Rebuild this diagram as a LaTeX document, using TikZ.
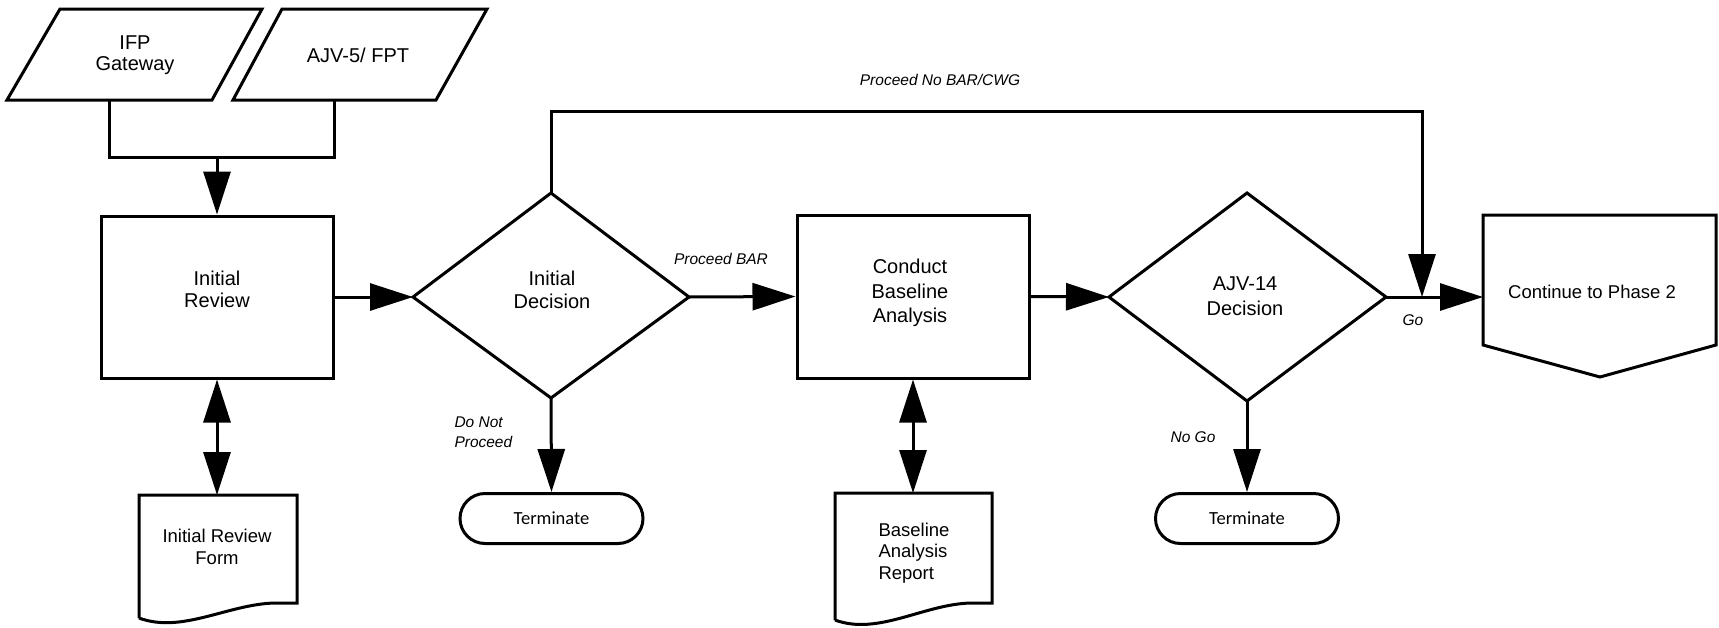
\documentclass[tikz,border=0pt]{standalone}
\usepackage{fontspec}
\setmainfont{Liberation Sans}
\newfontfamily\calib{Carlito}
\usetikzlibrary{arrows.meta}
\begin{document}
\begin{tikzpicture}[x=1pt,y=-1pt,
  line width=3pt,
  tip/.style={-{Triangle[length=43pt,width=27pt]}},
  dtip/.style={{Triangle[length=43pt,width=27pt]}-{Triangle[length=43pt,width=27pt]}},
  maintxt/.style={font=\fontsize{20}{23.5}\selectfont, align=center, inner sep=0pt},
  doctxt/.style={font=\fontsize{18.5}{21.5}\selectfont, inner sep=0pt},
  lbl/.style={font=\fontsize{15.5}{20}\selectfont\itshape, inner sep=0pt},
  term/.style={draw, rounded corners=25pt, minimum width=183pt, minimum height=50pt, inner sep=0pt, font=\calib\fontsize{18.5}{20}\selectfont},
  procbox/.style={draw, minimum width=232pt, minimum height=162pt, inner sep=0pt},
]
\useasboundingbox (0,0) rectangle (1719,627);

% inputs (parallelograms)
\draw (60,9) -- (262,9) -- (212,100) -- (7,100) -- cycle;
\draw (282,9) -- (487,9) -- (436,100) -- (233,100) -- cycle;
\node[maintxt, font=\fontsize{20}{21}\selectfont] (ifp) at (135,55) {IFP\\Gateway};
\node[maintxt] (ajv5) at (358,55) {AJV-5/ FPT};
\coordinate (ifpb) at (109,100);
\coordinate (ajvb) at (334,100);
\coordinate (mrg) at (217,157);

% Initial Review
\node[procbox] (ir) at (217,297) {};
\node[maintxt, font=\fontsize{20}{22}\selectfont] (irt) at (217,289) {Initial\\Review};

% Initial Decision diamond
\coordinate (d1w) at (413,297);
\coordinate (d1n) at (551,193);
\coordinate (d1e) at (689,297);
\coordinate (d1s) at (551,398);
\draw (d1w) -- (d1n) -- (d1e) -- (d1s) -- cycle;
\node[maintxt] (d1t) at (552,290) {Initial\\Decision};

% Conduct Baseline Analysis
\node[procbox, minimum height=163pt] (cb) at (913,296.5) {};
\node[maintxt, font=\fontsize{20}{24.5}\selectfont] (cbt) at (910,293) {Conduct\\Baseline\\Analysis};

% AJV-14 diamond
\coordinate (d2w) at (1109,297);
\coordinate (d2n) at (1247,193);
\coordinate (d2e) at (1386,297);
\coordinate (d2s) at (1247,401);
\draw (d2w) -- (d2n) -- (d2e) -- (d2s) -- cycle;
\node[maintxt, font=\fontsize{20}{25}\selectfont] (d2t) at (1245,296) {AJV-14\\Decision};

% Continue to Phase 2 (off-page connector)
\draw (1483,215) -- (1716,215) -- (1716,345) -- (1600,377) -- (1483,345) -- cycle;
\coordinate (p2w) at (1483,297);
\node[doctxt] (p2t) at (1592,292) {Continue to Phase 2};

% documents
\draw (139,618) -- (139,495) -- (297,495) -- (297,603) -- (275,603)
      .. controls (228,604) and (182,634) .. (139,618);
\coordinate (f1n) at (217,495);
\node[doctxt, align=center] (f1t) at (217,547) {Initial Review\\Form};

\draw (835,620) -- (835,493) -- (992,493) -- (992,603) -- (971,603)
      .. controls (924,604) and (878,636) .. (835,620);
\coordinate (f2n) at (913,493);
\node[doctxt, align=left, anchor=west] (f2t) at (877,553) {Baseline\\Analysis\\Report};

% terminators
\node[term] (tm1) at (551.5,518.5) {Terminate};
\node[term] (tm2) at (1247,518.5) {Terminate};

% connectors
\draw (ifpb) -- (109,157) -| (ajvb);
\draw[tip] (mrg) -- (ir.north);
\draw[tip] (ir.east) -- (d1w);
\draw[dtip] (ir.south) -- (f1n);
\draw[tip] (d1e) -- (cb.west);
\draw[tip] (d1s) -- (tm1.north);
\coordinate (go) at (1422,297);
\draw[tip] (d1n) -- (551,111) -| (go);
\draw[tip] (cb.east) -- (d2w);
\draw[dtip] (cb.south) -- (f2n);
\draw[tip] (d2e) -- (p2w);
\draw[tip] (d2s) -- (tm2.north);

% labels
\node[lbl] (l1) at (721,259) {Proceed BAR};
\node[lbl, align=left, anchor=west] (l2) at (453,432) {Do Not\\Proceed};
\node[lbl] (l3) at (940,80) {Proceed No BAR/CWG};
\node[lbl] (l4) at (1413,320) {Go};
\node[lbl] (l5) at (1193,437) {No Go};
\end{tikzpicture}
\end{document}
